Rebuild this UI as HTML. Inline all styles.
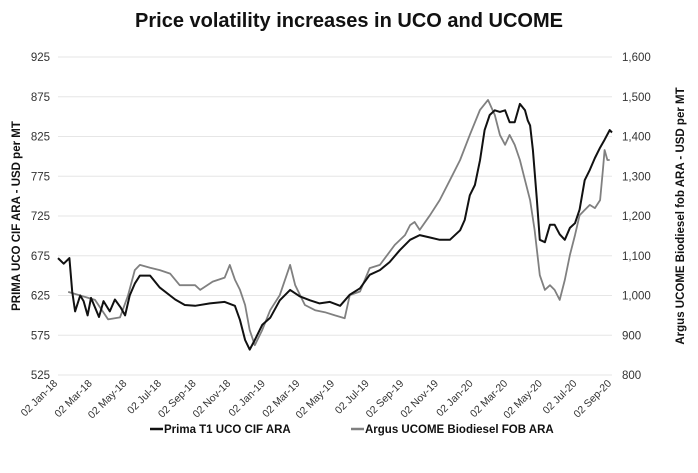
<!DOCTYPE html>
<html><head><meta charset="utf-8"><style>
body{margin:0;background:#fff;width:698px;height:468px;overflow:hidden;font-family:"Liberation Sans",sans-serif;}
svg text{font-family:"Liberation Sans",sans-serif;}
</style></head><body>
<svg id="chart" width="698" height="468">
<text x="349" y="27" text-anchor="middle" font-size="20" font-weight="bold" fill="#111">Price volatility increases in UCO and UCOME</text>
<g id="grid"></g><g id="axes"></g><g id="series"></g>
<text transform="translate(20,216) rotate(-90)" text-anchor="middle" font-size="11.5" font-weight="bold" fill="#111">PRIMA UCO CIF ARA - USD per MT</text>
<text transform="translate(684,216) rotate(-90)" text-anchor="middle" font-size="11.5" font-weight="bold" fill="#111">Argus UCOME Biodiesel fob ARA - USD per MT</text>
<g>
<line x1="150" y1="429" x2="163" y2="429" stroke="#111" stroke-width="2.5"/>
<text x="164" y="433" font-size="11.5" font-weight="bold" fill="#111">Prima T1 UCO CIF ARA</text>
<line x1="351" y1="429" x2="364" y2="429" stroke="#808080" stroke-width="2.5"/>
<text x="365" y="433" font-size="11.5" font-weight="bold" fill="#111">Argus UCOME Biodiesel FOB ARA</text>
</g>
</svg>
<script>
const leftTicks=[525,575,625,675,725,775,825,875,925];
const rightTicks=["800","900","1,000","1,100","1,200","1,300","1,400","1,500","1,600"];
const dateLabels=["02 Jan-18","02 Mar-18","02 May-18","02 Jul-18","02 Sep-18","02 Nov-18","02 Jan-19","02 Mar-19","02 May-19","02 Jul-19","02 Sep-19","02 Nov-19","02 Jan-20","02 Mar-20","02 May-20","02 Jul-20","02 Sep-20"];
const ucoDays=[0,10,20,25,30,39,45,52,58,65,72,80,91,100,110,118,126,135,144,162,179,206,223,241,267,293,311,320,329,337,346,359,373,390,408,425,443,460,478,496,513,531,548,566,583,601,619,636,654,671,689,707,715,724,733,742,750,759,768,777,786,794,803,812,821,826,830,835,842,847,856,865,873,882,891,900,909,917,926,935,944,953,961,970,974];
const ucoVals=[672,665,672,630,605,625,618,600,622,610,598,618,605,620,610,600,625,640,650,650,635,620,613,612,615,617,612,594,569,557,569,588,597,619,632,624,619,615,617,612,626,634,651,657,667,682,695,701,698,695,695,707,720,751,764,795,833,852,858,856,858,843,843,866,858,845,839,808,745,695,692,714,714,702,695,710,716,733,770,783,798,811,821,833,830];
const ucomeDays=[18,39,65,88,109,123,135,144,162,179,197,214,241,250,272,293,302,311,320,329,337,346,359,373,390,408,417,434,452,469,487,504,513,531,548,566,592,610,619,627,636,654,671,689,707,724,742,756,768,777,786,794,803,812,821,830,838,847,856,865,873,882,891,900,909,917,926,935,944,953,958,961,966,970];
const ucomeVals=[1009,1000,989,940,945,1000,1064,1077,1070,1064,1055,1026,1026,1014,1035,1045,1077,1040,1014,976,913,875,913,963,1001,1077,1026,976,963,958,950,943,1001,1010,1069,1077,1127,1152,1177,1185,1165,1202,1240,1290,1341,1404,1467,1492,1454,1404,1379,1404,1379,1341,1290,1240,1165,1051,1014,1026,1014,989,1039,1102,1152,1202,1215,1228,1220,1240,1316,1366,1341,1341];
const X0=58,X1=612,Y0=375,Y1=57;
const x=d=>X0+d*(X1-X0)/974;
const yL=v=>Y0-(v-525)*(Y0-Y1)/400;
const yR=v=>Y0-(v-800)*(Y0-Y1)/800;
const NS="http://www.w3.org/2000/svg";
const mk=(t,a,p)=>{const e=document.createElementNS(NS,t);for(const k in a)e.setAttribute(k,a[k]);p.appendChild(e);return e;};
const grid=document.getElementById('grid'),axes=document.getElementById('axes'),ser=document.getElementById('series');
leftTicks.forEach((v,i)=>{
 const g=mk('line',{x1:X0,x2:X1,y1:yL(v),y2:yL(v),stroke:'#e6e6e6','stroke-width':1},grid);
 
 
 const t=mk('text',{x:50,y:yL(v)+4,'text-anchor':'end','font-size':11.5,fill:'#333'},axes);t.textContent=v;
 
 
 const r=mk('text',{x:622,y:yL(v)+4,'font-size':11.5,fill:'#333'},axes);r.textContent=rightTicks[i];
 
 
});
dateLabels.forEach((s,i)=>{
 const px=X0+i*(X1-X0)/16;
 const t=mk('text',{transform:`translate(${px},${Y0+9}) rotate(-45)`,'text-anchor':'end','font-size':10.5,fill:'#333'},axes);t.textContent=s;
 
 
});
function path(days,vals,ys,col,w,name){
 let d='';days.forEach((dd,i)=>{d+=(i?'L':'M')+x(dd).toFixed(1)+','+ys(vals[i]).toFixed(1);});
 const p=mk('path',{d:d,fill:'none',stroke:col,'stroke-width':w,'stroke-linejoin':'round'},ser);
 
 
}
path(ucomeDays,ucomeVals,yR,'#808080',1.8,'ucome-line');
path(ucoDays,ucoVals,yL,'#111',2,'uco-line');
</script>
</body></html>
